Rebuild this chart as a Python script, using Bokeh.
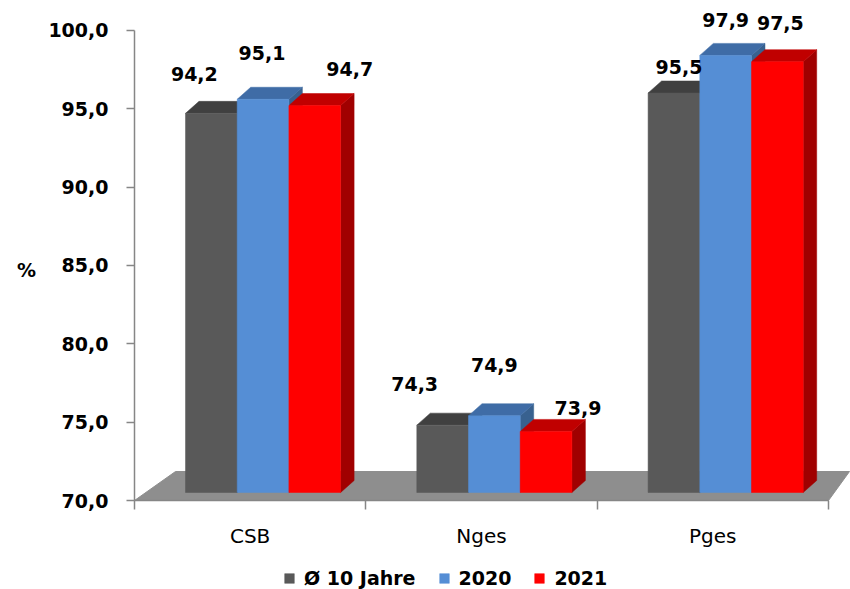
from bokeh.plotting import figure
from bokeh.models import (ColumnDataSource, FixedTicker, CustomJSTickFormatter,
                          Legend, LegendItem, Range1d, Label)
from bokeh.core.properties import value
from bokeh.embed import file_html
from bokeh.resources import INLINE

# ---- data ----
categories = ["CSB", "Nges", "Pges"]
series_names = ["Ø 10 Jahre", "2020", "2021"]
avg_10_years = [94.2, 74.3, 95.5]
values_2020 = [95.1, 74.9, 97.9]
values_2021 = [94.7, 73.9, 97.5]
y_ticks = [70, 75, 80, 85, 90, 95, 100]
y_unit = "%"

series_values = [avg_10_years, values_2020, values_2021]

# ---- styles ----
front_colors = ["#595959", "#558ED5", "#FF0000"]
top_colors = ["#404040", "#3F6CA6", "#C00000"]
side_colors = ["#333333", "#38618F", "#A00000"]
# label offsets in screen px (dx, dy) per series per category
label_dx = [[-17, -28, 5], [-1, 0, 0], [35, 32, 3]]
label_dy = [[-39, -41, -26], [-46, -51, -35], [-37, -23, -39]]

W, H = 850, 589
AX_LEFT, AX_BOTTOM = 134, 500   # pixel position of the axes
PX_X = 231.3     # px per category
PX_Y = 15.667    # px per percent
Y0, Y1 = 70, 100

bar_start = 51 / PX_X
bar_w = 51.7 / PX_X
lift = 8 / PX_Y
ddx = 13.5 / PX_X
ddy = 12 / PX_Y

p = figure(width=W, height=H, output_backend="svg", toolbar_location=None,
           x_range=Range1d(-AX_LEFT / PX_X, (W - AX_LEFT) / PX_X),
           y_range=Range1d(Y0 - (H - AX_BOTTOM) / PX_Y, Y0 + AX_BOTTOM / PX_Y),
           min_border=0, outline_line_color=None)
p.grid.visible = False
p.background_fill_color = "white"

# floor
fx = [0, 41 / PX_X, 715 / PX_X, 694 / PX_X]
fy = [Y0, Y0 + 29 / PX_Y, Y0 + 29 / PX_Y, Y0]
p.patch(fx, fy, fill_color="#8E8E8E", line_color="#8E8E8E", line_width=1)

fronts = dict(left=[], right=[], bottom=[], top=[], color=[])
tops = dict(xs=[], ys=[], color=[])
sides = dict(xs=[], ys=[], color=[])
labels = dict(x=[], y=[], text=[], dx=[], dy=[])

for j, vals in enumerate(series_values):
    for i, v in enumerate(vals):
        xl = i + bar_start + j * bar_w
        xr = xl + bar_w
        b = Y0 + lift
        t = v + lift
        fronts["left"].append(xl); fronts["right"].append(xr)
        fronts["bottom"].append(b); fronts["top"].append(t)
        fronts["color"].append(front_colors[j])
        tops["xs"].append([xl, xl + ddx, xr + ddx, xr])
        tops["ys"].append([t, t + ddy, t + ddy, t])
        tops["color"].append(top_colors[j])
        sides["xs"].append([xr, xr + ddx, xr + ddx, xr])
        sides["ys"].append([b, b + ddy, t + ddy, t])
        sides["color"].append(side_colors[j])
        labels["x"].append((xl + xr) / 2)
        labels["y"].append(t)
        labels["text"].append(f"{v:.1f}".replace(".", ","))
        labels["dx"].append(label_dx[j][i])
        labels["dy"].append(label_dy[j][i])

p.patches("xs", "ys", source=ColumnDataSource(sides), fill_color="color",
          line_color="color", line_width=0.5)
p.patches("xs", "ys", source=ColumnDataSource(tops), fill_color="color",
          line_color="color", line_width=0.5)
front_r = p.quad(left="left", right="right", bottom="bottom", top="top",
                 source=ColumnDataSource(fronts), fill_color="color",
                 line_color="color", line_width=0.5)

p.text("x", "y", text="text", x_offset="dx", y_offset="dy",
       source=ColumnDataSource(labels), text_align="center",
       text_baseline="middle", text_font=value("DejaVu Sans"),
       text_font_style="bold", text_font_size="19px", text_color="black")

axis_color = "#868686"
# y axis
ya = p.yaxis[0]
ya.fixed_location = 0
ya.ticker = FixedTicker(ticks=y_ticks)
ya.formatter = CustomJSTickFormatter(code="return tick.toFixed(1).replace('.', ',');")
ya.bounds = (Y0, Y1)
ya.axis_line_color = axis_color
ya.axis_line_width = 1.5
ya.major_tick_line_color = axis_color
ya.major_tick_line_width = 1.5
ya.major_tick_out = 8
ya.major_tick_in = 0
ya.minor_tick_line_color = None
ya.major_label_standoff = 18
ya.major_label_text_font = "DejaVu Sans"
ya.major_label_text_font_style = "bold"
ya.major_label_text_font_size = "19px"
ya.major_label_text_color = "black"

# x axis
xa = p.xaxis[0]
xa.fixed_location = Y0
xa.ticker = FixedTicker(ticks=[i + 0.5 for i in range(len(categories))],
                        minor_ticks=list(range(len(categories) + 1)))
xa.formatter = CustomJSTickFormatter(args=dict(cats=categories),
                                     code="return cats[Math.floor(tick)] || '';")
xa.bounds = (0, len(categories))
xa.axis_line_color = axis_color
xa.axis_line_width = 1.5
xa.major_tick_line_color = None
xa.major_tick_out = 0
xa.major_tick_in = 0
xa.minor_tick_line_color = axis_color
xa.minor_tick_line_width = 1.5
xa.minor_tick_out = 9
xa.minor_tick_in = 0
xa.major_label_standoff = 14
xa.major_label_text_font = "DejaVu Sans"
xa.major_label_text_font_size = "20px"
xa.major_label_text_color = "black"

# unit label "%"
p.add_layout(Label(x=26, y=H - 269, x_units="screen", y_units="screen",
                   text=y_unit, text_align="center", text_baseline="middle",
                   text_font="DejaVu Sans", text_font_style="bold",
                   text_font_size="19px", text_color="black"))

n_cat = len(categories)
legend = Legend(items=[LegendItem(label=series_names[k], renderers=[front_r],
                                  index=k * n_cat)
                       for k in range(len(series_names))],
                location=(283, 0), orientation="horizontal",
                glyph_width=12, glyph_height=12, label_standoff=9, spacing=22,
                padding=0, margin=0, border_line_color=None,
                background_fill_alpha=0,
                label_text_font="DejaVu Sans", label_text_font_style="bold",
                label_text_font_size="19px", label_text_color="black")
p.add_layout(legend)

open("out.html", "w").write(file_html(p, INLINE))
